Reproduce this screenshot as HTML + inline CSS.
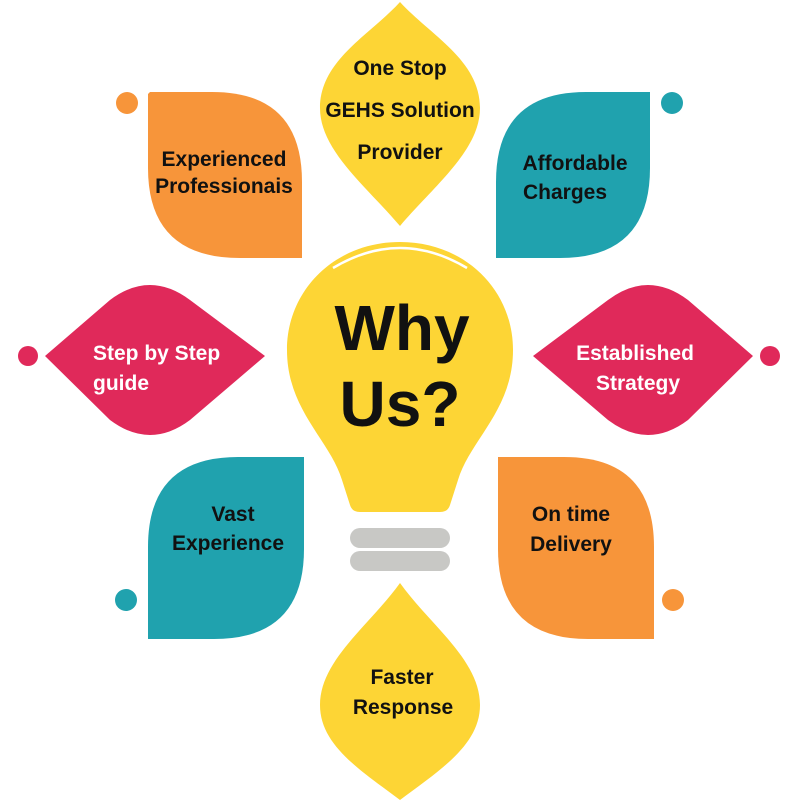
<!DOCTYPE html>
<html><head><style>
html,body{margin:0;padding:0;background:#fff;}
svg{display:block;}
text{font-family:"Liberation Sans",sans-serif;font-weight:bold;}
</style></head><body>
<svg width="800" height="800" viewBox="0 0 800 800">
<path d="M400,2 C430,35 480,60 480,108 C480,150 435,185 400,226 C365,185 320,150 320,108 C320,60 370,35 400,2Z" fill="#FDD535"/>
<path d="M400,583 C430,625 480,660 480,705 C480,745 440,770 400,800 C360,770 320,745 320,705 C320,660 370,625 400,583Z" fill="#FDD535"/>
<path d="M150,92 L212,92 Q302,92 302,182 L302,258 L240,258 Q148,258 148,168 L148,94Z" fill="#F7953A"/>
<circle cx="127" cy="103" r="11" fill="#F7953A"/>
<path d="M586,92 L650,92 L650,168 Q650,258 560,258 L496,258 L496,182 Q496,92 586,92Z" fill="#20A2AE"/>
<circle cx="672" cy="103" r="11" fill="#20A2AE"/>
<path d="M238,457 L304,457 L304,549 Q304,639 214,639 L148,639 L148,547 Q148,457 238,457Z" fill="#20A2AE"/>
<circle cx="126" cy="600" r="11" fill="#20A2AE"/>
<path d="M498,457 L564,457 Q654,457 654,547 L654,639 L588,639 Q498,639 498,549Z" fill="#F7953A"/>
<circle cx="673" cy="600" r="11" fill="#F7953A"/>
<path d="M45,356 L110,300 Q150,270 190,300 L265,356 L190,420 Q150,450 110,420Z" fill="#E0295A"/>
<circle cx="28" cy="356" r="10" fill="#E0295A"/>
<path d="M533,356 L608,300 Q648,270 688,300 L753,356 L688,420 Q648,450 608,420Z" fill="#E0295A"/>
<circle cx="770" cy="356" r="10" fill="#E0295A"/>
<path d="M400,242 C465,242 513,290 513,350 C513,410 470,440 458,480 L450,505 Q448,512 440,512 L360,512 Q352,512 350,505 L342,480 C330,440 287,410 287,350 C287,290 335,242 400,242Z" fill="#FDD535"/>
<path d="M333,268 Q400,228 467,268" fill="none" stroke="#fff" stroke-width="2.5"/>
<rect x="350" y="528" width="100" height="20" rx="10" fill="#C8C8C5"/>
<rect x="350" y="551" width="100" height="20" rx="10" fill="#C8C8C5"/>
<text x="402" y="350" font-size="64" text-anchor="middle" fill="#111">Why</text>
<text x="400" y="426" font-size="64" text-anchor="middle" fill="#111">Us?</text>
<g font-size="21" fill="#111" text-anchor="middle">
<text x="400" y="75">One Stop</text>
<text x="400" y="117">GEHS Solution</text>
<text x="400" y="159">Provider</text>
<text x="224" y="166">Experienced</text>
<text x="224" y="193">Professionais</text>
<text x="575" y="170">Affordable</text>
<text x="565" y="199">Charges</text>
<text x="233" y="521">Vast</text>
<text x="228" y="550">Experience</text>
<text x="571" y="521">On time</text>
<text x="571" y="551">Delivery</text>
<text x="402" y="684">Faster</text>
<text x="403" y="714">Response</text>
</g>
<g font-size="21" fill="#fff">
<text x="93" y="360">Step by Step</text>
<text x="93" y="390">guide</text>
<text x="635" y="360" text-anchor="middle">Established</text>
<text x="638" y="390" text-anchor="middle">Strategy</text>
</g>
</svg>
</body></html>
